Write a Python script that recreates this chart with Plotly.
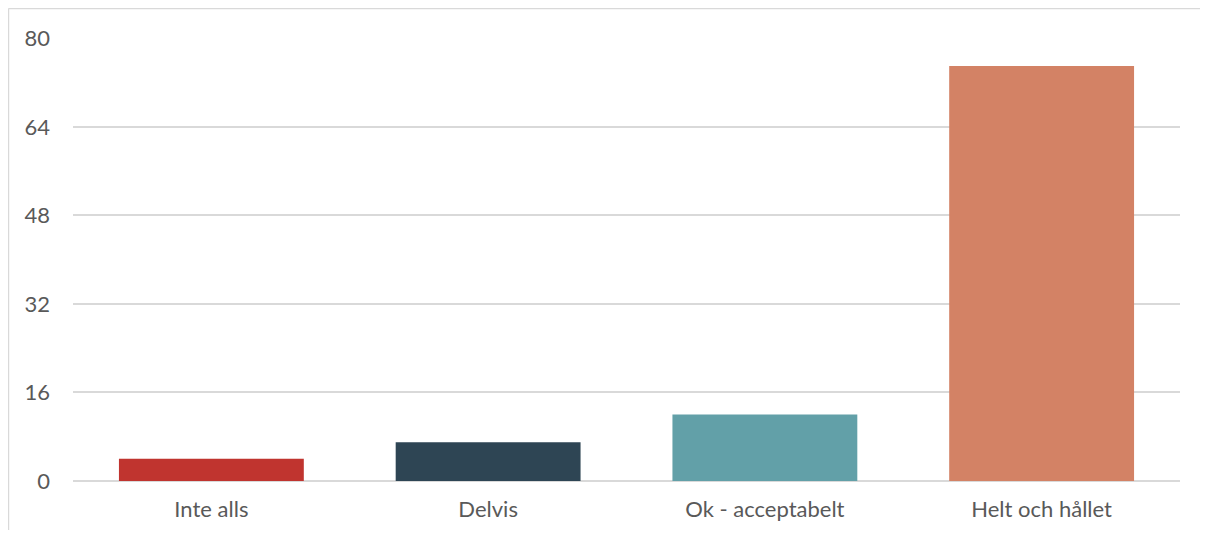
import plotly.graph_objects as go

categories = ["Inte alls", "Delvis", "Ok - acceptabelt", "Helt och hållet"]
values = [4, 7, 12, 75]
colors = ["#C0342F", "#2E4554", "#62A0A8", "#D38265"]
y_ticks = [0, 16, 32, 48, 64, 80]

fig = go.Figure(go.Bar(x=categories, y=values, marker=dict(color=colors, line=dict(width=0)), width=0.668))

border = dict(color="#D9D9D9", width=1.5)
fig.update_layout(
    width=1192, height=522,
    margin=dict(l=65, r=20, t=30, b=49),
    paper_bgcolor="white", plot_bgcolor="white",
    font=dict(family="Lato, Open Sans, sans-serif", size=22, color="#595959"),
    showlegend=False,
    xaxis=dict(showgrid=False, showline=False, ticks="", ticklabelstandoff=13, tickfont=dict(size=22),
               automargin=False),
    yaxis=dict(range=[0, 80.05], tickvals=y_ticks, showgrid=True, gridcolor="#D9D9D9", gridwidth=1.5,
               zeroline=True, zerolinecolor="#D9D9D9", zerolinewidth=1.5, showline=False, ticks="",
               ticklabelstandoff=22, tickfont=dict(size=22), automargin=False),
    shapes=[
        dict(type="line", xref="paper", yref="paper", x0=-0.0583, x1=-0.0583, y0=-0.2, y1=1.0666, line=border),
        dict(type="line", xref="paper", yref="paper", x0=-0.0583, x1=1.2, y0=1.0666, y1=1.0666, line=border),
    ],
)

fig.write_html("out.html")
